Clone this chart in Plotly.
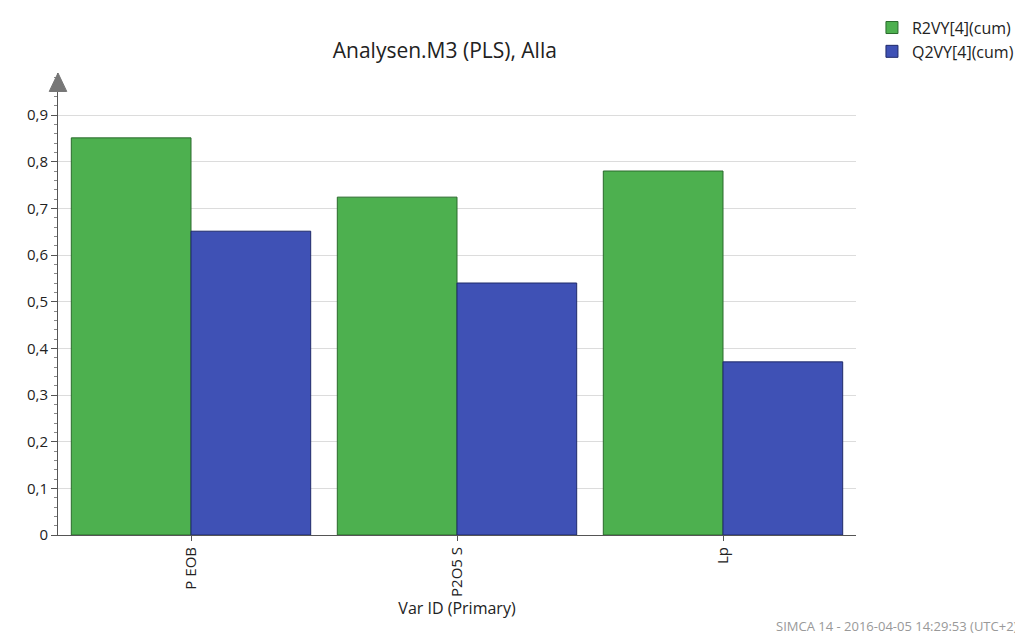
import plotly.graph_objects as go

categories = ["P EOB", "P2O5 S", "Lp"]
r2vy = [0.851, 0.724, 0.780]
q2vy = [0.651, 0.540, 0.371]
y_ticks = [0, 0.1, 0.2, 0.3, 0.4, 0.5, 0.6, 0.7, 0.8, 0.9]
y_labels = ["0", "0,1", "0,2", "0,3", "0,4", "0,5", "0,6", "0,7", "0,8", "0,9"]

fig = go.Figure()
fig.add_trace(go.Bar(x=categories, y=r2vy, name="R2VY[4](cum)",
                     marker=dict(color="#4db04f", line=dict(color="#2a6a2c", width=1))))
fig.add_trace(go.Bar(x=categories, y=q2vy, name="Q2VY[4](cum)",
                     marker=dict(color="#3f51b5", line=dict(color="#1f2a6a", width=1))))

fig.update_layout(
    width=1023, height=639,
    margin=dict(l=50, r=175, t=65, b=112, autoexpand=False),
    paper_bgcolor="white", plot_bgcolor="white",
    font=dict(family="Open Sans", size=15, color="#222"),
    title=dict(text="Analysen.M3 (PLS), Alla", x=0.427, xanchor="center", y=0.945,
               font=dict(size=21)),
    barmode="group", bargap=0.1, bargroupgap=0,
    legend=dict(x=1.02, y=1.135, xanchor="left", yanchor="top",
                font=dict(size=16), traceorder="normal", itemwidth=30),
    showlegend=True,
)
fig.update_xaxes(range=[-0.5, 2.5], tickangle=-90, showline=True, linecolor="#555",
                 ticks="outside", ticklen=5, tickcolor="#555", automargin=False,
                 title=dict(text="Var ID (Primary)", font=dict(size=16), standoff=5))
fig.update_yaxes(range=[0, 0.99], tickmode="array", tickvals=y_ticks, ticktext=y_labels,
                 showline=True, linecolor="#555", ticks="outside", ticklen=6,
                 tickcolor="#555", showgrid=True, gridcolor="#dcdcdc", automargin=False,
                 minor=dict(dtick=0.02, ticks="outside", ticklen=3, tickcolor="#888"),
                 zeroline=False)
fig.add_shape(type="path", xref="paper", yref="paper",
              path="M -0.011 0.96 L 0 1.0 L 0.011 0.96 Z",
              fillcolor="#777", line=dict(color="#777", width=1))
fig.add_annotation(text="SIMCA 14 - 2016-04-05 14:29:53 (UTC+2)", xref="paper", yref="paper",
                   x=1.205, y=-0.22, xanchor="right", yanchor="bottom", showarrow=False,
                   font=dict(size=13, color="#999"))

fig.write_html("out.html")
